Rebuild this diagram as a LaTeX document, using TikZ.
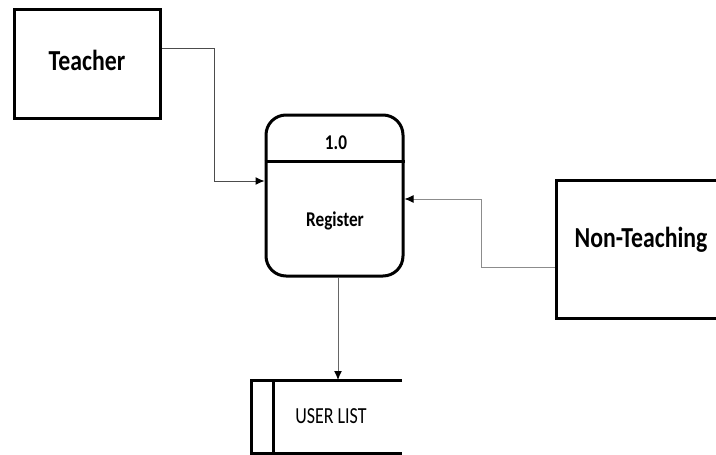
\documentclass[tikz,border=0pt]{standalone}
\usepackage{fontspec}
\newfontfamily\cfa[FakeStretch=0.82]{Carlito}
\newfontfamily\cfb[FakeStretch=0.78]{Carlito}
\usetikzlibrary{arrows.meta,calc}
\tikzset{
  ent/.style={draw=black, line width=3pt, rectangle, inner sep=0pt},
  proc/.style={draw=black, line width=3pt, rectangle, rounded corners=20pt, inner sep=0pt},
  flow/.style={line width=1pt, -{Latex[length=9pt,width=8pt,fill=black,color=black]}},
  bigtxt/.style={font=\cfa\bfseries\fontsize{29}{32}\selectfont, inner sep=0pt},
  midtxt/.style={font=\cfa\bfseries\fontsize{21}{24}\selectfont, inner sep=0pt},
  storetxt/.style={font=\cfb\fontsize{23}{26}\selectfont, inner sep=0pt}
}
\begin{document}
\begin{tikzpicture}[x=1pt,y=-1pt]
\useasboundingbox (0,0) rectangle (716,455);
\begin{scope}
\clip (0,0) rectangle (716,455);
% Teacher
\node[ent, minimum width=146pt, minimum height=109pt] (teacher) at (87,63.5) {};
\node[bigtxt] (tlab) at (87,60) {Teacher};
% Process
\node[proc, minimum width=137pt, minimum height=161pt] (proc) at (334.5,195.5) {};
\draw[line width=3pt] (proc.west |- 0,161) coordinate (dl) -- (proc.east |- 0,161) coordinate (dr);
\node[midtxt] (pnum) at (336,143) {1.0};
\node[midtxt] (pname) at (335,221) {Register};
% Non-Teaching
\node[ent, minimum width=168pt, minimum height=138pt] (nt) at (640,249) {};
\node[bigtxt] (ntlab) at (641,240) {Non-Teaching};
% Data store
\coordinate (s1) at (251,380);
\coordinate (s2) at (402,380);
\coordinate (s3) at (251,453);
\coordinate (s4) at (402,453);
\draw[line width=3pt] (s2) -- (s1) -- (s3) -- (s4);
\draw[line width=3pt] (273,380) coordinate (i1) -- (273,453) coordinate (i2);
\node[storetxt] (store) at (331,416) {USER LIST};
\coordinate (stin) at (338,380);
% Flows
\draw[flow, draw=black!70] ([yshift=15.5pt]teacher.east) -- ++(53,0) |- ([yshift=14.5pt]proc.west);
\draw[flow, draw=black!45] ([yshift=-18pt]nt.west) -- ++(-73,0) |- ([yshift=-3.5pt]proc.east);
\draw[flow, draw=black!60] (proc.south -| stin) -- (stin);
\end{scope}
\end{tikzpicture}
\end{document}
